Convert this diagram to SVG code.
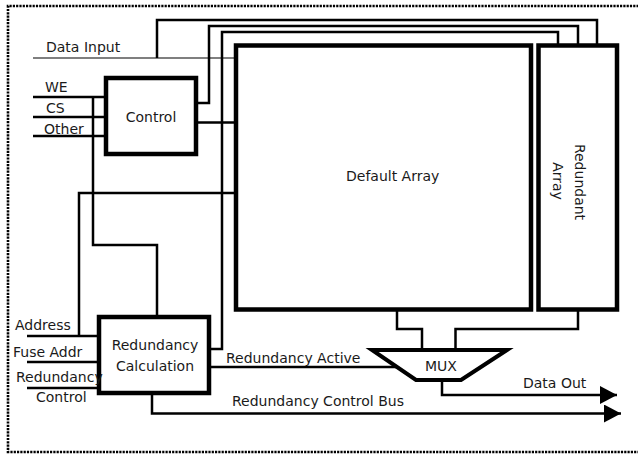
<svg xmlns="http://www.w3.org/2000/svg" width="638" height="455" viewBox="0 0 638 455">
<defs>
<style>
.box{fill:#fff;stroke:#000;stroke-width:4.5}
.w{fill:none;stroke:#000;stroke-width:2.5}
.thin{fill:none;stroke:#555;stroke-width:1.5}
text{font-family:"DejaVu Sans","Liberation Sans",sans-serif;font-size:14px;fill:#1a1a1a}
.c{text-anchor:middle}
</style>
<marker id="arr" markerUnits="userSpaceOnUse" markerWidth="18" markerHeight="18" refX="17" refY="9" orient="auto"><path d="M0,0 L17,9 L0,18 z" fill="#000"/></marker>
</defs>
<rect width="638" height="455" fill="#fff"/>
<path d="M642,6 H8 V452 H642" fill="none" stroke="#000" stroke-width="2.6" stroke-dasharray="2.2 1.1"/>
<g id="connectors">
<path class="thin" d="M33,58 H236"/>
<path class="w" d="M157,58 V20 H597 V45"/>
<path class="w" d="M196,103 H209 V26 H578 V45"/>
<path class="w" d="M209,349 H222 V32 H558 V45"/>
<path class="w" d="M196,122.5 H236"/>
<path class="w" d="M33,97 H106 M33,117 H106 M33,136 H106"/>
<path class="w" d="M93,97 V245 H157 V317"/>
<path class="w" d="M27,336 H99 M79,336 V193 H236"/>
<path class="w" d="M27,362 H99 M27,388 H99"/>
<path class="w" d="M209,367 H396"/>
<path class="w" d="M397,310 V329 H422 V350"/>
<path class="w" d="M578,310 V329 H455.5 V350"/>
<path class="w" d="M442,380 V395 H617" marker-end="url(#arr)"/>
<path class="w" d="M152,393 V413.5 H621" marker-end="url(#arr)"/>
</g>
<g id="control">
<rect class="box" x="106" y="78" width="90" height="76"/>
<text class="c" x="151" y="122">Control</text>
</g>
<g id="default-array">
<rect class="box" x="236" y="45.5" width="295" height="264"/>
<text x="346" y="181">Default Array</text>
</g>
<g id="redundant-array">
<rect class="box" x="538.5" y="45.5" width="78.5" height="264"/>
<text class="c" transform="translate(575,182) rotate(90)">Redundant</text>
<text class="c" transform="translate(553,181) rotate(90)">Array</text>
</g>
<g id="redundancy-calculation">
<rect class="box" x="99" y="317" width="110" height="76"/>
<text class="c" x="155" y="350">Redundancy</text>
<text class="c" x="155" y="371">Calculation</text>
</g>
<g id="mux">
<polygon points="372,350 507,350 461,380 416,380" fill="#fff" stroke="#000" stroke-width="4"/>
<text class="c" x="441" y="371">MUX</text>
</g>
<g id="labels">
<text x="46" y="52">Data Input</text>
<text x="45" y="92">WE</text>
<text x="46" y="113">CS</text>
<text x="44" y="134">Other</text>
<text x="15" y="330">Address</text>
<text x="13" y="357">Fuse Addr</text>
<text x="16" y="382">Redundancy</text>
<text x="36" y="402">Control</text>
<text x="226" y="363">Redundancy Active</text>
<text x="232" y="406">Redundancy Control Bus</text>
<text x="523" y="388">Data Out</text>
</g>
</svg>
